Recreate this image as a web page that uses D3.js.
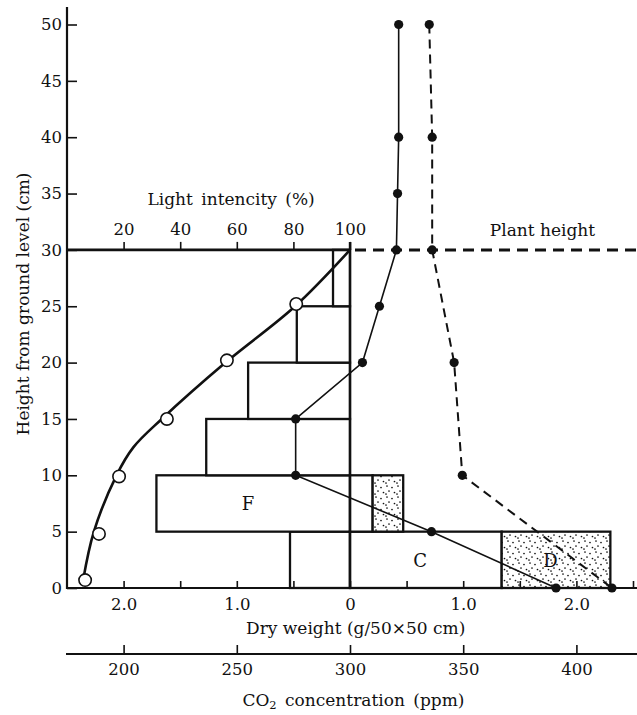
<!DOCTYPE html>
<html>
<head>
<meta charset="utf-8">
<script src="https://cdn.jsdelivr.net/npm/d3@7"></script>
<style>
  body { margin: 0; background: #fff; }
  svg { display: block; font-family: "DejaVu Serif", "Liberation Serif", serif; }
</style>
</head>
<body>
<div id="chart"></div>
<script>
// ---- data ----
const HEIGHT_TICKS = [0, 5, 10, 15, 20, 25, 30, 35, 40, 45, 50];
const DRY_TICKS = [-2, -1.5, -1, -0.5, 0, 0.5, 1, 1.5, 2, 2.5];
const DRY_LABEL_AT = [-2, -1, 0, 1, 2];
const DRY_LABELS = ["2.0", "1.0", "0", "1.0", "2.0"];
const LIGHT_TICKS = [20, 40, 60, 80, 100];
const CO2_TICKS = [200, 250, 300, 350, 400];

// stratified clip, 5 cm layers (g/50x50 cm)
const LAYER_BASE = [0, 5, 10, 15, 20, 25];
const LAYER_F = [0.53, 1.71, 1.27, 0.90, 0.47, 0.15];   // photosynthetic (left)
const LAYER_C = [1.34, 0.20, 0, 0, 0, 0];               // non-photosynthetic (right)
const LAYER_D = [0.96, 0.27, 0, 0, 0, 0];               // dead (stippled)

// light intensity: measured points (open circles)
const LIGHT_H = [0.7, 4.8, 9.9, 15.0, 20.2, 25.2];
const LIGHT_PCT = [6.4, 11.3, 18.4, 35.3, 56.5, 81];
// light intensity: fitted curve
const LIGHT_FIT_H = [0.7, 5, 10, 12.5, 15, 20, 25, 30];
const LIGHT_FIT_PCT = [5.7, 9.5, 17.5, 23.5, 33.5, 56, 80.6, 100];

// CO2 profiles
const CO2_SOLID_H = [50, 40, 35, 30, 25, 20, 15, 10, 5, 0];
const CO2_SOLID = [321.5, 321.5, 321, 320.5, 313, 305.5, 276, 276, 336, 391];
const CO2_DASH_H = [50, 40, 30, 20, 10, 0];
const CO2_DASH = [335, 336.3, 336.3, 346, 349.6, 415.7];

const PLANT_HEIGHT = 30;

// ---- chart ----
const W = 637, H = 715;
const ink = "#111";

const svg = d3.select("#chart").append("svg")
  .attr("width", W).attr("height", H);

const x = d3.scaleLinear().domain([-2.5, 2.5]).range([67, 633]);
const xLight = d3.scaleLinear().domain([0, 100]).range([x(-2.5), x(0)]);
const xCO2 = d3.scaleLinear().domain([175, 425]).range([x(-2.5), x(2.5)]);
const y = d3.scaleLinear().domain([0, 50]).range([588, 24.5]);
const co2Y = 654;

// stipple pattern for dead matter
const pat = svg.append("defs").append("pattern")
  .attr("id", "stipple")
  .attr("patternUnits", "userSpaceOnUse")
  .attr("width", 11).attr("height", 11);
pat.append("rect").attr("width", 11).attr("height", 11).attr("fill", "#fff");
[[2, 2], [7, 3.5], [4, 7], [9.5, 8.5], [1, 10]].forEach(p => {
  pat.append("circle").attr("cx", p[0]).attr("cy", p[1]).attr("r", 0.85).attr("fill", ink);
});

// boxes
const layers = LAYER_BASE.map((b, i) => ({ base: b, f: LAYER_F[i], c: LAYER_C[i], d: LAYER_D[i] }));
const boxG = svg.append("g")
  .attr("stroke", ink).attr("stroke-width", 2.3);

boxG.selectAll("rect.f").data(layers.filter(d => d.f > 0)).enter()
  .append("rect").attr("class", "f")
  .attr("x", d => x(-d.f)).attr("width", d => x(0) - x(-d.f))
  .attr("y", d => y(d.base + 5)).attr("height", d => y(d.base) - y(d.base + 5))
  .attr("fill", "#fff");

boxG.selectAll("rect.c").data(layers.filter(d => d.c > 0)).enter()
  .append("rect").attr("class", "c")
  .attr("x", x(0)).attr("width", d => x(d.c) - x(0))
  .attr("y", d => y(d.base + 5)).attr("height", d => y(d.base) - y(d.base + 5))
  .attr("fill", "#fff");

boxG.selectAll("rect.d").data(layers.filter(d => d.d > 0)).enter()
  .append("rect").attr("class", "d")
  .attr("x", d => x(d.c)).attr("width", d => x(d.c + d.d) - x(d.c))
  .attr("y", d => y(d.base + 5)).attr("height", d => y(d.base) - y(d.base + 5))
  .attr("fill", "url(#stipple)");

// box letters
const letter = (t, dx, dh) => svg.append("text")
  .attr("x", x(dx)).attr("y", y(dh)).attr("dy", "0.36em")
  .attr("text-anchor", "middle").attr("font-size", 18).attr("fill", ink).text(t);
letter("F", -0.9, 7.5);
letter("C", 0.62, 2.4);
letter("D", 1.77, 2.4);

// ---- axes ----
function styleAxis(g, size) {
  g.attr("font-family", null).attr("font-size", size);
  g.select(".domain").remove();
  g.selectAll(".tick line").attr("stroke", ink).attr("stroke-width", 1.6);
  g.selectAll(".tick text").attr("fill", ink);
}

// height axis
svg.append("g")
  .attr("transform", `translate(${x(-2.5)},0)`)
  .call(d3.axisLeft(y).tickValues(HEIGHT_TICKS).tickSize(-10).tickPadding(5))
  .call(g => styleAxis(g, 16.5));
svg.append("line")
  .attr("x1", x(-2.5)).attr("x2", x(-2.5)).attr("y1", y(0) + 1).attr("y2", 7)
  .attr("stroke", ink).attr("stroke-width", 2.2);

// dry weight axis
svg.append("g")
  .attr("transform", `translate(0,${y(0)})`)
  .call(d3.axisBottom(x).tickValues(DRY_TICKS).tickSize(-7).tickPadding(10)
    .tickFormat(d => {
      const k = DRY_LABEL_AT.indexOf(d);
      return k >= 0 ? DRY_LABELS[k] : "";
    }))
  .call(g => styleAxis(g, 16.5));
svg.append("line")
  .attr("x1", x(-2.5) - 1).attr("x2", W).attr("y1", y(0)).attr("y2", y(0))
  .attr("stroke", ink).attr("stroke-width", 2.2);

// CO2 axis
svg.append("g")
  .attr("transform", `translate(0,${co2Y})`)
  .call(d3.axisBottom(xCO2).tickValues(CO2_TICKS).tickSize(-9).tickPadding(9))
  .call(g => styleAxis(g, 16.5));
svg.append("line")
  .attr("x1", x(-2.5) - 1).attr("x2", W).attr("y1", co2Y).attr("y2", co2Y)
  .attr("stroke", ink).attr("stroke-width", 2.2);

// light intensity axis (top of canopy)
svg.append("g")
  .attr("transform", `translate(0,${y(PLANT_HEIGHT)})`)
  .call(d3.axisTop(xLight).tickValues(LIGHT_TICKS).tickSize(8).tickPadding(7))
  .call(g => styleAxis(g, 16.5));
svg.append("line")
  .attr("x1", x(-2.5)).attr("x2", x(0)).attr("y1", y(PLANT_HEIGHT)).attr("y2", y(PLANT_HEIGHT))
  .attr("stroke", ink).attr("stroke-width", 2.6);

// zero line of dry weight
svg.append("line")
  .attr("x1", x(0)).attr("x2", x(0)).attr("y1", y(PLANT_HEIGHT) - 8).attr("y2", y(0))
  .attr("stroke", ink).attr("stroke-width", 2.4);

// plant height line
svg.append("line")
  .attr("x1", x(0) + 5).attr("x2", W).attr("y1", y(PLANT_HEIGHT)).attr("y2", y(PLANT_HEIGHT))
  .attr("stroke", ink).attr("stroke-width", 3).attr("stroke-dasharray", "11,7");

// ---- series ----
const lightFit = LIGHT_FIT_H.map((h, i) => [xLight(LIGHT_FIT_PCT[i]), y(h)]);
svg.append("path")
  .attr("d", d3.line().curve(d3.curveCatmullRom.alpha(0.5))(lightFit))
  .attr("fill", "none").attr("stroke", ink).attr("stroke-width", 2.6);

const solidPts = CO2_SOLID_H.map((h, i) => [xCO2(CO2_SOLID[i]), y(h)]);
const dashPts = CO2_DASH_H.map((h, i) => [xCO2(CO2_DASH[i]), y(h)]);

svg.append("path")
  .attr("d", d3.line()(solidPts))
  .attr("fill", "none").attr("stroke", ink).attr("stroke-width", 1.6);
svg.append("path")
  .attr("d", d3.line()(dashPts))
  .attr("fill", "none").attr("stroke", ink).attr("stroke-width", 2)
  .attr("stroke-dasharray", "9,6");

svg.append("g").selectAll("circle")
  .data(solidPts.concat(dashPts)).enter().append("circle")
  .attr("cx", d => d[0]).attr("cy", d => d[1]).attr("r", 4.6)
  .attr("fill", ink);

svg.append("g").selectAll("circle")
  .data(LIGHT_H.map((h, i) => [xLight(LIGHT_PCT[i]), y(h)])).enter().append("circle")
  .attr("cx", d => d[0]).attr("cy", d => d[1]).attr("r", 6.2)
  .attr("fill", "#fff").attr("stroke", ink).attr("stroke-width", 1.6);

// ---- titles ----
svg.append("text")
  .attr("transform", `translate(23,${y(25.2)}) rotate(-90)`)
  .attr("text-anchor", "middle").attr("dy", "0.35em")
  .attr("font-size", 17).attr("fill", ink)
  .text("Height from ground level (cm)");

svg.append("text")
  .attr("x", xLight(58)).attr("y", 205)
  .attr("text-anchor", "middle").attr("font-size", 17).attr("fill", ink)
  .attr("word-spacing", 3)
  .text("Light intencity (%)");

svg.append("text")
  .attr("x", x(1.7)).attr("y", 236)
  .attr("text-anchor", "middle").attr("font-size", 17).attr("fill", ink)
  .text("Plant height");

svg.append("text")
  .attr("x", x(0.05)).attr("y", 634)
  .attr("text-anchor", "middle").attr("font-size", 17).attr("fill", ink)
  .text("Dry weight (g/50×50 cm)");

const co2Title = svg.append("text")
  .attr("x", x(0.03)).attr("y", 706)
  .attr("text-anchor", "middle").attr("font-size", 17).attr("fill", ink);
co2Title.append("tspan").text("CO");
co2Title.append("tspan").attr("font-size", 11.5).attr("dy", 3).text("2");
co2Title.append("tspan").attr("dy", -3).attr("word-spacing", 3).text(" concentration (ppm)");
</script>
</body>
</html>
